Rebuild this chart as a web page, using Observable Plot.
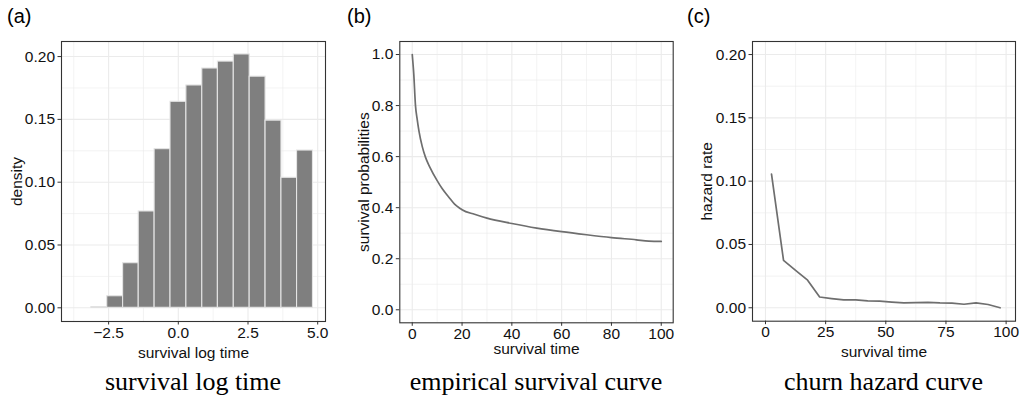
<!DOCTYPE html>
<html>
<head>
<meta charset="utf-8">
<script src="https://cdn.jsdelivr.net/npm/d3@7"></script>
<script src="https://cdn.jsdelivr.net/npm/@observablehq/plot@0.6"></script>
<style>
  html, body { margin: 0; padding: 0; background: white; }
  #root { position: relative; width: 1020px; height: 400px; overflow: hidden; background: white; }
  .panel { position: absolute; top: 0; width: 340px; height: 400px; }
  .panel svg { position: absolute; left: 0; top: 0; }
  .tag { position: absolute; top: 6px; font-family: "Liberation Sans", Arial, sans-serif; font-size: 20px; line-height: 1; color: #000; }
  .cap { position: absolute; top: 369px; font-family: "Liberation Serif", "Times New Roman", serif; font-size: 26px; line-height: 1; color: #000; text-align: center; white-space: nowrap; }
</style>
</head>
<body>
<div id="root"></div>
<script>
// ---------- data ----------
// (a) histogram of survival log time
const binEdges = [-3.12, -2.55, -1.98, -1.42, -0.85, -0.28, 0.29, 0.86, 1.42, 1.99, 2.56, 3.13, 3.70, 4.26, 4.83];
const binDensity = [0.0005, 0.0092, 0.0355, 0.0767, 0.1263, 0.164, 0.177, 0.1905, 0.196, 0.2017, 0.184, 0.149, 0.1035, 0.1252];

// (b) empirical survival curve
const survTime = [0, 0.6, 1.3, 2, 2.7, 4, 5.3, 7, 10, 12, 14.7, 17, 19.4, 20, 25, 30, 40, 50, 60, 70, 80, 90, 95, 100];
const survProb = [1.0, 0.925, 0.80, 0.745, 0.70, 0.64, 0.598, 0.56, 0.506, 0.475, 0.441, 0.414, 0.396, 0.392, 0.374, 0.359, 0.338, 0.32, 0.306, 0.294, 0.283, 0.274, 0.269, 0.268];

// (c) churn hazard curve
const hazTime = [2.5, 7.5, 12.5, 17.5, 22.5, 27.5, 32.5, 37.5, 42.5, 47.5, 52.5, 57.5, 62.5, 67.5, 72.5, 77.5, 82.5, 87.5, 92.5, 97.5];
const hazRate = [0.1055, 0.0374, 0.0295, 0.0218, 0.0085, 0.0073, 0.0062, 0.0062, 0.0054, 0.0052, 0.0044, 0.0038, 0.0041, 0.0043, 0.0038, 0.0036, 0.0028, 0.0038, 0.0026, 0.0];

// tick values
const aXMajor = [-2.5, 0, 2.5, 5];
const aXMinor = [-3.75, -1.25, 1.25, 3.75];
const aYMajor = [0, 0.05, 0.10, 0.15, 0.20];
const aYMinor = [0.025, 0.075, 0.125, 0.175];
const bXMajor = [0, 20, 40, 60, 80, 100];
const bXMinor = [10, 30, 50, 70, 90];
const bYMajor = [0, 0.2, 0.4, 0.6, 0.8, 1.0];
const bYMinor = [0.1, 0.3, 0.5, 0.7, 0.9];
const cXMajor = [0, 25, 50, 75, 100];
const cXMinor = [12.5, 37.5, 62.5, 87.5];
const cYMajor = [0, 0.05, 0.10, 0.15, 0.20];
const cYMinor = [0.025, 0.075, 0.125, 0.175];

// titles
const tags = ["(a)", "(b)", "(c)"];
const captions = ["survival log time", "empirical survival curve", "churn hazard curve"];
const xTitles = ["survival log time", "survival time", "survival time"];
const yTitles = ["density", "survival probabilities", "hazard rate"];

// ---------- build ----------
const histData = binDensity.map((d, i) => ({x1: binEdges[i], x2: binEdges[i + 1], y: d}));
const survData = survTime.map((t, i) => ({t, p: survProb[i]}));
const hazData = hazTime.map((t, i) => ({t, h: hazRate[i]}));

const FONT = "'Liberation Sans', Arial, Helvetica, sans-serif";
const GRID = "#ebebeb";
const INK = "#333333";
const W = 340, H = 365;
const FS = 15.5;

function panel(cfg) {
  const {ml, mr, mt, mb, xDomain, yDomain, xMaj, xMin, yMaj, yMin, xFmt, yFmt, xTitle, yTitle, xLabelOffset, yLabelOffset, dataMarks} = cfg;
  return Plot.plot({
    width: W, height: H,
    marginLeft: ml, marginRight: mr, marginTop: mt, marginBottom: mb,
    style: {fontFamily: FONT, fontSize: FS + "px", color: "#1a1a1a", background: "transparent", overflow: "visible"},
    x: {domain: xDomain},
    y: {domain: yDomain},
    marks: [
      Plot.gridX(xMin, {stroke: GRID, strokeOpacity: 1, strokeWidth: 0.6}),
      Plot.gridY(yMin, {stroke: GRID, strokeOpacity: 1, strokeWidth: 0.6}),
      Plot.gridX(xMaj, {stroke: GRID, strokeOpacity: 1, strokeWidth: 1.1}),
      Plot.gridY(yMaj, {stroke: GRID, strokeOpacity: 1, strokeWidth: 1.1}),
      ...dataMarks,
      Plot.frame({stroke: INK, strokeWidth: 1.1}),
      Plot.axisX(xMaj, {tickSize: 3.5, tickPadding: 1.5, stroke: INK, strokeWidth: 1, tickFormat: xFmt, fill: "#111", fontSize: FS,
        label: xTitle, labelAnchor: "center", labelArrow: "none", labelOffset: xLabelOffset}),
      Plot.axisY(yMaj, {tickSize: 3.5, tickPadding: 3, stroke: INK, strokeWidth: 1, tickFormat: yFmt, fill: "#111", fontSize: FS,
        label: yTitle, labelAnchor: "center", labelArrow: "none", labelOffset: yLabelOffset})
    ]
  });
}

const cfgs = [
  {
    left: 0, ml: 61, mr: 15, mt: 41, mb: 44,
    xDomain: [-4.19, 5.28], yDomain: [-0.0109, 0.212],
    xMaj: aXMajor, xMin: aXMinor, yMaj: aYMajor, yMin: aYMinor,
    xFmt: d3.format(".1f"), yFmt: d3.format(".2f"),
    xLabelOffset: 36, yLabelOffset: 51,
    dataMarks: [
      Plot.rectY(histData, {x1: "x1", x2: "x2", y1: 0, y2: "y", fill: "#7f7f7f", stroke: "#e4e4e4", strokeWidth: 1.1})
    ]
  },
  {
    left: 340, ml: 59.3, mr: 7.3, mt: 41, mb: 42.7,
    xDomain: [-5, 104.8], yDomain: [-0.051, 1.051],
    xMaj: bXMajor, xMin: bXMinor, yMaj: bYMajor, yMin: bYMinor,
    xFmt: d3.format("d"), yFmt: d3.format(".1f"),
    xLabelOffset: 31, yLabelOffset: 42,
    dataMarks: [
      Plot.line(survData, {x: "t", y: "p", stroke: "#6e6e6e", strokeWidth: 1.7, curve: "monotone-x"})
    ]
  },
  {
    left: 680, ml: 72, mr: 5, mt: 41, mb: 44.3,
    xDomain: [-5.4, 103.9], yDomain: [-0.0106, 0.2103],
    xMaj: cXMajor, xMin: cXMinor, yMaj: cYMajor, yMin: cYMinor,
    xFmt: d3.format("d"), yFmt: d3.format(".2f"),
    xLabelOffset: 36, yLabelOffset: 52,
    dataMarks: [
      Plot.line(hazData, {x: "t", y: "h", stroke: "#6e6e6e", strokeWidth: 1.7})
    ]
  }
];

const root = document.getElementById("root");
cfgs.forEach((c, i) => {
  const div = document.createElement("div");
  div.className = "panel";
  div.style.left = c.left + "px";
  const svg = panel({...c, xTitle: xTitles[i], yTitle: yTitles[i]});
  div.appendChild(svg);
  const tag = document.createElement("div");
  tag.className = "tag";
  tag.style.left = "7px";
  tag.textContent = tags[i];
  div.appendChild(tag);
  const cap = document.createElement("div");
  cap.className = "cap";
  cap.style.left = c.ml + "px";
  cap.style.width = (W - c.ml - c.mr) + "px";
  cap.textContent = captions[i];
  div.appendChild(cap);
  root.appendChild(div);
});
</script>
</body>
</html>
